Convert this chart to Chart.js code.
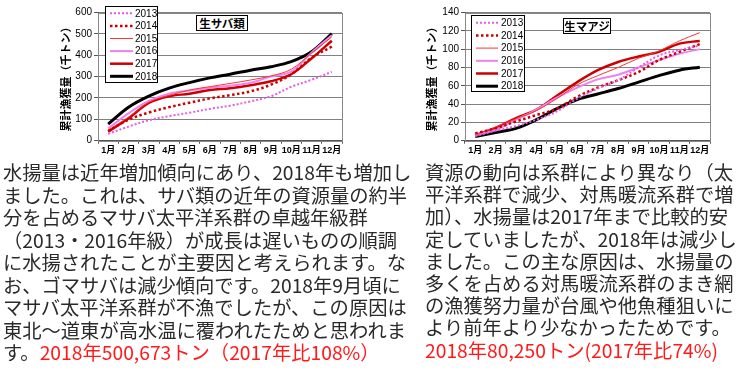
<!DOCTYPE html>
<html>
<head>
<meta charset="utf-8">
<script src="https://cdn.jsdelivr.net/npm/chart.js@4.4.1/dist/chart.umd.min.js"></script>
<style>
  html, body { margin: 0; padding: 0; background: #fff; }
  body { width: 737px; height: 376px; position: relative; overflow: hidden;
         font-family: "Noto Sans CJK JP", "Noto Sans", sans-serif; }
  .cv { position: absolute; top: 0; height: 160px; }
  .ttl { position: absolute; border: 1px solid #000; background: #fff; font-weight: bold;
         font-size: 11.5px; line-height: 14px; text-align: center; color: #000; box-sizing: border-box; }
  .txt { position: absolute; font-size: 19.3px; color: #2a2a2a; white-space: nowrap; }
  .red { color: #ff1a1a; }
</style>
</head>
<body>
<div class="cv" style="left:55px;width:315px"><canvas id="sabaChart"></canvas></div>
<div class="cv" style="left:421px;width:316px"><canvas id="ajiChart"></canvas></div>
<div class="ttl" style="left:196px;top:15px;width:52px;height:16px">生サバ類</div>
<div class="ttl" style="left:563px;top:18px;width:48px;height:16px">生マアジ</div>

<div class="txt" style="left:3px;top:161px;line-height:22.5px">
水揚量は近年増加傾向にあり、2018年も増加し<br>
ました。これは、サバ類の近年の資源量の約半<br>
分を占めるマサバ太平洋系群の卓越年級群<br>
（2013・2016年級）が成長は遅いものの順調<br>
に水揚されたことが主要因と考えられます。な<br>
お、ゴマサバは減少傾向です。2018年9月頃に<br>
マサバ太平洋系群が不漁でしたが、この原因は<br>
東北～道東が高水温に覆われたためと思われま<br>
す。<span class="red">2018年500,673トン（2017年比108%）</span>
</div>
<div class="txt" style="left:425px;top:161px;line-height:22.2px">
資源の動向は系群により異なり（太<br>
平洋系群で減少、対馬暖流系群で増<br>
加）、水揚量は2017年まで比較的安<br>
定していましたが、2018年は減少し<br>
ました。この主な原因は、水揚量の<br>
多くを占める対馬暖流系群のまき網<br>
の漁獲努力量が台風や他魚種狙いに<br>
より前年より少なかったためです。<br>
<span class="red">2018年80,250トン(2017年比74%)</span>
</div>

<script>
// months and years
const months = ['1月','2月','3月','4月','5月','6月','7月','8月','9月','10月','11月','12月'];
const years = ['2013','2014','2015','2016','2017','2018'];

// 生サバ類 cumulative catch (thousand t)
const saba2013 = [32, 66, 96, 115, 131, 149, 164, 184, 208, 252, 285, 322];
const saba2014 = [45, 98, 132, 157, 178, 198, 213, 231, 262, 310, 388, 440];
const saba2015 = [50, 110, 180, 212, 237, 253, 268, 284, 303, 334, 410, 486];
const saba2016 = [58, 128, 186, 220, 235, 248, 257, 271, 300, 323, 412, 494];
const saba2017 = [42, 105, 177, 208, 220, 237, 246, 260, 278, 311, 385, 468];
const saba2018 = [78, 157, 209, 246, 272, 294, 311, 330, 346, 370, 416, 501];
const sabaTicks = [0, 100, 200, 300, 400, 500, 600];

// 生マアジ cumulative catch (thousand t)
const aji2013 = [5, 11, 16, 23, 32, 46, 57, 66, 80, 93, 99, 104];
const aji2014 = [8, 13.5, 21, 28, 35, 48, 58, 66, 75, 88, 97, 105.5];
const aji2015 = [6, 15, 24, 33, 46, 61, 71, 80, 90, 98, 109, 118];
const aji2016 = [6, 12, 23, 34, 47, 58, 67, 72, 80, 88, 95, 100];
const aji2017 = [6, 14, 24.5, 34, 49, 64, 77, 86, 92, 97, 106, 109];
const aji2018 = [4.5, 9, 13.5, 23, 35, 45, 51, 57, 64, 71, 77, 80.3];
const ajiTicks = [0, 20, 40, 60, 80, 100, 120, 140];

const styles = [
    { color: '#e65ce6', width: 2, dash: [2, 2] },
    { color: '#cc0000', width: 2.5, dash: [2.5, 2.5] },
    { color: '#ff3333', width: 1, dash: [] },
    { color: '#ee82ee', width: 2, dash: [] },
    { color: '#cc0000', width: 2.5, dash: [] },
    { color: '#000000', width: 3, dash: [] }
];

function makeDatasets(series) {
    return series.map((data, i) => ({
        label: years[i],
        data: data,
        borderColor: styles[i].color,
        borderWidth: styles[i].width,
        borderDash: styles[i].dash,
        pointRadius: 0,
        tension: 0.35,
        fill: false
    }));
}

// boxed legend drawn inside the plot, styles read from the datasets
const boxLegend = {
    id: 'boxLegend',
    afterDatasetsDraw(chart, args, o) {
        const ctx = chart.ctx;
        ctx.save();
        ctx.setLineDash([]);
        ctx.fillStyle = '#fff';
        ctx.fillRect(o.x, o.y, o.w, o.h);
        ctx.strokeStyle = '#000';
        ctx.lineWidth = 1;
        ctx.strokeRect(o.x + 0.5, o.y + 0.5, o.w, o.h);
        chart.data.datasets.forEach((ds, i) => {
            const cy = o.y0 + i * o.rowH;
            ctx.beginPath();
            ctx.strokeStyle = ds.borderColor;
            ctx.lineWidth = ds.borderWidth;
            ctx.setLineDash(ds.borderDash || []);
            ctx.moveTo(o.lx1, cy);
            ctx.lineTo(o.lx2, cy);
            ctx.stroke();
            ctx.setLineDash([]);
            ctx.fillStyle = '#000';
            ctx.font = '10px Arial';
            ctx.textBaseline = 'middle';
            ctx.fillText(ds.label, o.tx, cy + 0.5);
        });
        ctx.restore();
    }
};

// gray frame round the plot area
const frame = {
    id: 'frame',
    beforeDatasetsDraw(chart) {
        const a = chart.chartArea, ctx = chart.ctx;
        ctx.save();
        ctx.strokeStyle = '#888';
        ctx.lineWidth = 1;
        ctx.strokeRect(Math.round(a.left) + 0.5, Math.round(a.top) + 0.5,
                       Math.round(a.right - a.left), Math.round(a.bottom - a.top));
        ctx.restore();
    }
};

function makeChart(id, series, ticks, yWidth, padRight, legendOpts) {
    const ctx = document.getElementById(id).getContext('2d');
    return new Chart(ctx, {
        type: 'line',
        data: { labels: months, datasets: makeDatasets(series) },
        options: {
            responsive: true,
            maintainAspectRatio: false,
            animation: false,
            layout: { padding: { top: 12.5, right: padRight, left: 0, bottom: 0 } },
            scales: {
                x: {
                    offset: true,
                    grid: { offset: true, drawOnChartArea: false, tickLength: 3, color: '#555' },
                    border: { color: '#555' },
                    ticks: { color: '#000', padding: 1, maxRotation: 0, autoSkip: false,
                             font: { family: 'Arial, "Noto Sans CJK JP"', size: 9, weight: 'bold' } },
                    afterFit(scale) { scale.height = 19.3; }
                },
                y: {
                    min: ticks[0],
                    max: ticks[ticks.length - 1],
                    afterBuildTicks(scale) { scale.ticks = ticks.map(v => ({ value: v })); },
                    grid: { color: '#808080', borderDash: [2, 2], tickLength: 4,
                            tickColor: '#555', tickBorderDash: [] },
                    border: { color: '#555' },
                    ticks: { color: '#000', padding: 2,
                             font: { family: 'Arial', size: 10 } },
                    title: {
                        display: true,
                        text: '累計漁獲量（千トン）',
                        color: '#000',
                        padding: { top: 4, bottom: 0 },
                        font: { family: '"Noto Sans CJK JP"', size: 11, weight: 'bold' }
                    },
                    afterFit(scale) { scale.width = yWidth; }
                }
            },
            plugins: {
                legend: { display: false },
                tooltip: { enabled: false },
                boxLegend: legendOpts
            }
        },
        plugins: [frame, boxLegend]
    });
}

makeChart('sabaChart',
    [saba2013, saba2014, saba2015, saba2016, saba2017, saba2018],
    sabaTicks, 43, 28,
    { x: 50, y: 6, w: 52, h: 76, y0: 13.3, rowH: 12.6, lx1: 55, lx2: 78, tx: 80 });

makeChart('ajiChart',
    [aji2013, aji2014, aji2015, aji2016, aji2017, aji2018],
    ajiTicks, 44, 27,
    { x: 50, y: 15, w: 53, h: 76, y0: 22.7, rowH: 12.7, lx1: 55, lx2: 77, tx: 80 });
</script>
</body>
</html>
